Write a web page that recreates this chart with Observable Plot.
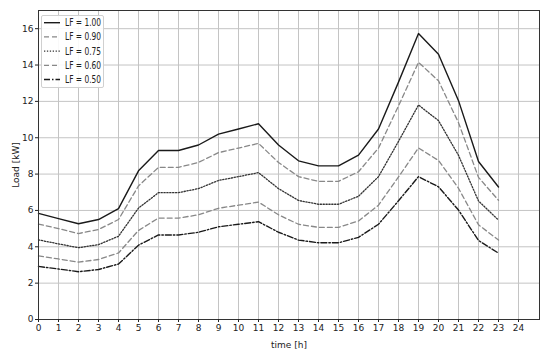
<!DOCTYPE html>
<html>
<head>
<meta charset="utf-8">
<script src="https://cdn.jsdelivr.net/npm/d3@7"></script>
<script src="https://cdn.jsdelivr.net/npm/@observablehq/plot@0.6"></script>
<style>
  html, body { margin: 0; padding: 0; background: #fff; }
  #wrap { position: relative; width: 550px; height: 355px; font-family: "DejaVu Sans", sans-serif; }
  #legend { position: absolute; left: 41px; top: 15px; width: 63px; height: 73px; background: rgba(255,255,255,0.9); border: 1px solid #d0d0d0; border-radius: 2px; box-sizing: border-box; overflow: visible; }
</style>
</head>
<body>
<div id="wrap"></div>
<script>
const hours = d3.range(0, 24);
const xTicks = d3.range(0, 25);
const yTicks = [0, 2, 4, 6, 8, 10, 12, 14, 16];
const seriesNames = ["LF = 1.00", "LF = 0.90", "LF = 0.75", "LF = 0.60", "LF = 0.50"];
const lf100 = [5.84,5.55,5.27,5.5,6.1,8.18,9.3,9.3,9.6,10.2,10.48,10.77,9.6,8.73,8.45,8.45,9.04,10.48,13.06,15.73,14.59,12.04,8.69,7.29];
const lf090 = [5.25,5.0,4.73,4.95,5.5,7.35,8.37,8.37,8.64,9.18,9.43,9.69,8.64,7.86,7.6,7.6,8.13,9.43,11.75,14.15,13.13,10.83,7.82,6.56];
const lf075 = [4.38,4.16,3.95,4.12,4.58,6.13,6.98,6.98,7.2,7.65,7.86,8.08,7.2,6.55,6.34,6.34,6.78,7.86,9.8,11.8,10.94,9.03,6.52,5.47];
const lf060 = [3.5,3.33,3.16,3.3,3.66,4.9,5.58,5.58,5.76,6.12,6.29,6.46,5.76,5.24,5.07,5.07,5.42,6.29,7.84,9.44,8.75,7.22,5.21,4.37];
const lf050 = [2.92,2.78,2.63,2.75,3.05,4.09,4.65,4.65,4.8,5.1,5.24,5.38,4.8,4.37,4.22,4.22,4.52,5.24,6.53,7.86,7.3,6.02,4.35,3.65];

const seriesValues = [lf100, lf090, lf075, lf060, lf050];
const styles = [
  {stroke: "#1a1a1a", dash: null, width: 1.4},
  {stroke: "#888888", dash: "5,3", width: 1.3},
  {stroke: "#333333", dash: "1.3,1.6", width: 1.3},
  {stroke: "#888888", dash: "5,3", width: 1.3},
  {stroke: "#1a1a1a", dash: "6,2,1.5,2", width: 1.4}
];

const font = '"DejaVu Sans", sans-serif';

const lineMarks = seriesValues.map((vals, i) =>
  Plot.line(hours.map((h, j) => ({h, v: vals[j]})), {
    x: "h", y: "v",
    stroke: styles[i].stroke,
    strokeWidth: styles[i].width,
    strokeDasharray: styles[i].dash,
    curve: "linear"
  })
);

const chart = Plot.plot({
  width: 550,
  height: 355,
  marginLeft: 38,
  marginRight: 11,
  marginTop: 10,
  marginBottom: 36,
  style: {fontFamily: font, fontSize: "9px", color: "#222", background: "#fff"},
  x: {domain: [0, 25.05]},
  y: {domain: [0, 17]},
  marks: [
    Plot.gridX(xTicks, {stroke: "#c4c4c4", strokeOpacity: 1, strokeWidth: 1}),
    Plot.gridY(yTicks, {stroke: "#c4c4c4", strokeOpacity: 1, strokeWidth: 1}),
    ...lineMarks,
    Plot.frame({stroke: "#333", strokeWidth: 1}),
    Plot.axisX({ticks: xTicks, tickSize: 3, tickPadding: 2, label: "time [h]", labelAnchor: "center", labelArrow: "none", labelOffset: 28, fontSize: 9}),
    Plot.axisY({ticks: yTicks, tickSize: 3, tickPadding: 2, label: "Load [kW]", labelAnchor: "center", labelArrow: "none", labelOffset: 26, fontSize: 9})
  ]
});

const wrap = document.getElementById("wrap");
wrap.appendChild(chart);

// legend overlay
const legend = document.createElement("div");
legend.id = "legend";
const ns = "http://www.w3.org/2000/svg";
const lsvg = document.createElementNS(ns, "svg");
lsvg.setAttribute("width", 90);
lsvg.setAttribute("height", 73);
lsvg.style.position = "absolute";
lsvg.style.left = "-1px";
lsvg.style.top = "-1px";
lsvg.style.overflow = "visible";
seriesNames.forEach((name, i) => {
  const y = 7.7 + i * 14.2;
  const ln = document.createElementNS(ns, "line");
  ln.setAttribute("x1", 3); ln.setAttribute("x2", 19);
  ln.setAttribute("y1", y); ln.setAttribute("y2", y);
  ln.setAttribute("stroke", styles[i].stroke);
  ln.setAttribute("stroke-width", styles[i].width);
  if (styles[i].dash) ln.setAttribute("stroke-dasharray", styles[i].dash);
  lsvg.appendChild(ln);
  const t = document.createElementNS(ns, "text");
  t.setAttribute("x", 24); t.setAttribute("y", y + 3.5);
  t.setAttribute("font-size", "10px");
  t.setAttribute("font-family", font);
  t.setAttribute("fill", "#222");
  t.setAttribute("textLength", 36);
  t.setAttribute("lengthAdjust", "spacingAndGlyphs");
  t.textContent = name;
  lsvg.appendChild(t);
});
legend.appendChild(lsvg);
wrap.appendChild(legend);
</script>
</body>
</html>
